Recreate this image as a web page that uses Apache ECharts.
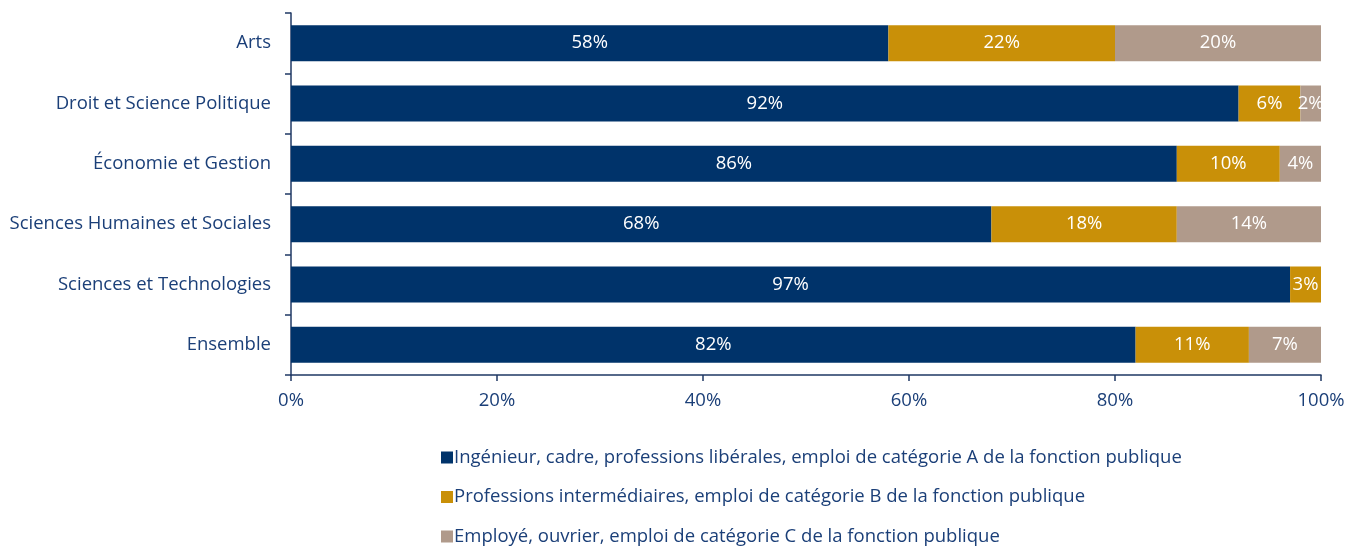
<!DOCTYPE html>
<html>
<head>
<meta charset="utf-8">
<script src="https://cdn.jsdelivr.net/npm/echarts@6/dist/echarts.min.js"></script>
<style>
  html, body { margin: 0; padding: 0; background: #fff; }
  #chart { width: 1359px; height: 546px; }
</style>
</head>
<body>
<div id="chart"></div>
<script>
  var categories = ['Arts', 'Droit et Science Politique', 'Économie et Gestion',
    'Sciences Humaines et Sociales', 'Sciences et Technologies', 'Ensemble'];
  var seriesNames = [
    'Ingénieur, cadre, professions libérales, emploi de catégorie A de la fonction publique',
    'Professions intermédiaires, emploi de catégorie B de la fonction publique',
    'Employé, ouvrier, emploi de catégorie C de la fonction publique'
  ];
  var catA = [58, 92, 86, 68, 97, 82];
  var catB = [22, 6, 10, 18, 3, 11];
  var catC = [20, 2, 4, 14, 0, 7];
  var xTicks = [0, 20, 40, 60, 80, 100];

  var colors = ['#00336a', '#c99008', '#b09a8b'];
  var textColor = '#1b3f78';
  var lineColor = '#1f3864';
  var font = 'Open Sans';
  var fs = 18.5;

  var chart = echarts.init(document.getElementById('chart'));

  function makeSeries(name, data, color) {
    return {
      name: name,
      type: 'bar',
      stack: 'total',
      barWidth: 36,
      data: data,
      itemStyle: { color: color },
      label: {
        show: true,
        position: 'inside',
        color: '#fff',
        fontFamily: font,
        fontSize: fs,
        formatter: function (p) { return p.value ? p.value + '%' : ''; }
      }
    };
  }

  var option = {
    animation: false,
    color: colors,
    grid: { left: 291, right: 38, top: 13, bottom: 171 },
    xAxis: {
      type: 'value',
      min: xTicks[0],
      max: xTicks[xTicks.length - 1],
      interval: 20,
      axisLine: { show: true, lineStyle: { color: lineColor, width: 1.5 } },
      axisTick: { show: true, length: 6, lineStyle: { color: lineColor, width: 1.5 } },
      splitLine: { show: false },
      axisLabel: {
        color: textColor, fontFamily: font, fontSize: fs, margin: 16,
        formatter: '{value}%'
      }
    },
    yAxis: {
      type: 'category',
      inverse: true,
      data: categories,
      axisLine: { show: true, lineStyle: { color: lineColor, width: 1.5 } },
      axisTick: { show: true, length: 6, alignWithLabel: false, lineStyle: { color: lineColor, width: 1.5 } },
      axisLabel: { color: textColor, fontFamily: font, fontSize: fs, margin: 20 }
    },
    legend: {
      orient: 'vertical',
      left: 436,
      top: 443,
      height: 115,
      itemWidth: 12,
      itemHeight: 12,
      itemGap: 20.5,
      icon: 'rect',
      textStyle: { color: textColor, fontFamily: font, fontSize: fs, padding: [0, 0, 0, -4] },
      data: seriesNames
    },
    series: [
      makeSeries(seriesNames[0], catA, colors[0]),
      makeSeries(seriesNames[1], catB, colors[1]),
      makeSeries(seriesNames[2], catC, colors[2])
    ]
  };

  chart.setOption(option);
</script>
</body>
</html>
